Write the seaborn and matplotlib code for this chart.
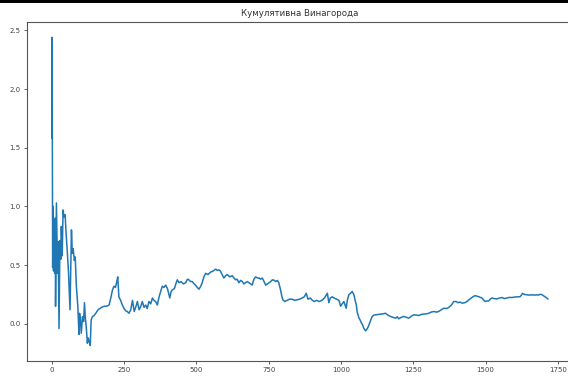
import matplotlib
matplotlib.use("Agg")
import matplotlib.pyplot as plt
from matplotlib.patches import Rectangle
import seaborn as sns
import pandas as pd

# Episode index and cumulative (running mean) reward
episodes = [
    0, 1, 2, 3, 5, 6, 8, 10, 12, 13, 16, 18, 20, 22, 25, 28, 31, 33, 36, 39,
    42, 46, 50, 54, 58, 63, 66, 68, 71, 74, 78, 81, 85, 90, 94, 96, 99, 102, 106, 110,
    113, 116, 119, 123, 126, 129, 133, 136, 140, 146, 152, 160, 166, 172, 181, 190, 198, 204, 210, 215,
    220, 224, 228, 232, 238, 244, 250, 256, 261, 267, 273, 279, 285, 290, 296, 302, 308, 313, 319, 325,
    330, 336, 342, 348, 353, 359, 365, 371, 376, 382, 388, 394, 400, 408, 412, 417, 424, 429, 434, 440,
    447, 455, 463, 469, 474, 480, 486, 492, 497, 503, 509, 515, 520, 526, 532, 540, 549, 558, 567, 572,
    578, 583, 589, 595, 601, 607, 615, 624, 630, 636, 641, 647, 653, 659, 664, 670, 676, 682, 688, 693,
    699, 705, 711, 717, 722, 728, 734, 740, 746, 751, 757, 763, 770, 775, 780, 785, 791, 796, 799, 806,
    814, 822, 831, 840, 849, 857, 866, 873, 880, 886, 894, 901, 908, 916, 925, 934, 943, 948, 953, 958,
    963, 970, 976, 985, 993, 999, 1004, 1010, 1018, 1022, 1027, 1033, 1039, 1045, 1049, 1053, 1056, 1059, 1062, 1066,
    1071, 1075, 1079, 1085, 1091, 1095, 1099, 1104, 1108, 1114, 1120, 1128, 1137, 1145, 1154, 1162, 1171, 1180, 1189, 1195,
    1200, 1208, 1217, 1226, 1235, 1243, 1252, 1260, 1269, 1278, 1286, 1295, 1304, 1312, 1321, 1330, 1338, 1347, 1356, 1365,
    1373, 1382, 1390, 1398, 1405, 1412, 1419, 1428, 1436, 1445, 1453, 1459, 1465, 1470, 1476, 1482, 1488, 1494, 1499, 1505,
    1511, 1516, 1522, 1530, 1539, 1548, 1557, 1565, 1574, 1582, 1591, 1600, 1608, 1614, 1620, 1624, 1628, 1635, 1643, 1651,
    1660, 1668, 1677, 1683, 1689, 1695, 1700, 1706, 1712, 1716,
]

cumulative_reward = [
    1.58, 2.44, 1.31, 0.48, 1.00, 0.45, 0.83, 0.43, 0.90, 0.15, 1.03, 0.75, 0.43, 0.70, -0.04, 0.71, 0.55, 0.83, 0.58, 0.97,
    0.91, 0.93, 0.75, 0.60, 0.43, 0.12, 0.55, 0.80, 0.60, 0.64, 0.54, 0.57, 0.32, 0.15, -0.09, 0.09, 0.03, -0.08, 0.06, 0.02,
    0.18, 0.05, -0.02, -0.165, -0.12, -0.15, -0.185, 0.03, 0.06, 0.07, 0.09, 0.12, 0.13, 0.14, 0.15, 0.15, 0.16, 0.22, 0.29, 0.32,
    0.31, 0.35, 0.40, 0.23, 0.20, 0.16, 0.13, 0.11, 0.105, 0.09, 0.12, 0.20, 0.105, 0.14, 0.19, 0.12, 0.15, 0.19, 0.14, 0.16,
    0.13, 0.19, 0.17, 0.22, 0.20, 0.19, 0.16, 0.23, 0.27, 0.32, 0.31, 0.33, 0.30, 0.22, 0.27, 0.29, 0.30, 0.34, 0.375, 0.35,
    0.36, 0.34, 0.35, 0.38, 0.375, 0.36, 0.36, 0.34, 0.33, 0.31, 0.295, 0.32, 0.35, 0.40, 0.43, 0.42, 0.44, 0.45, 0.466, 0.455,
    0.46, 0.45, 0.42, 0.39, 0.41, 0.42, 0.40, 0.41, 0.39, 0.375, 0.38, 0.35, 0.37, 0.36, 0.34, 0.35, 0.36, 0.35, 0.34, 0.33,
    0.38, 0.40, 0.39, 0.39, 0.38, 0.39, 0.36, 0.33, 0.34, 0.35, 0.36, 0.375, 0.37, 0.36, 0.37, 0.35, 0.29, 0.23, 0.205, 0.19,
    0.20, 0.21, 0.21, 0.20, 0.205, 0.21, 0.22, 0.23, 0.26, 0.21, 0.22, 0.20, 0.19, 0.20, 0.19, 0.20, 0.22, 0.24, 0.26, 0.18,
    0.22, 0.23, 0.22, 0.21, 0.20, 0.15, 0.17, 0.19, 0.133, 0.20, 0.247, 0.26, 0.275, 0.247, 0.20, 0.162, 0.10, 0.077, 0.05, 0.034,
    0.006, -0.01, -0.037, -0.06, -0.042, -0.02, 0.006, 0.04, 0.063, 0.075, 0.077, 0.08, 0.083, 0.085, 0.09, 0.075, 0.063, 0.055, 0.048, 0.06,
    0.043, 0.055, 0.063, 0.055, 0.048, 0.065, 0.077, 0.075, 0.071, 0.08, 0.083, 0.085, 0.09, 0.10, 0.105, 0.10, 0.105, 0.12, 0.133, 0.13,
    0.14, 0.16, 0.19, 0.19, 0.18, 0.185, 0.176, 0.18, 0.19, 0.21, 0.224, 0.235, 0.24, 0.235, 0.232, 0.225, 0.22, 0.20, 0.19, 0.195,
    0.195, 0.21, 0.22, 0.215, 0.212, 0.22, 0.224, 0.215, 0.22, 0.225, 0.224, 0.228, 0.23, 0.23, 0.232, 0.245, 0.26, 0.25, 0.247, 0.245,
    0.247, 0.245, 0.247, 0.245, 0.252, 0.248, 0.24, 0.23, 0.22, 0.21,
]

title = "Кумулятивна Винагорода"
x_ticks = [0, 250, 500, 750, 1000, 1250, 1500, 1750]
y_ticks = [0.0, 0.5, 1.0, 1.5, 2.0, 2.5]

df = pd.DataFrame({"episode": episodes, "reward": cumulative_reward})

sns.set_style("ticks")
plt.rcParams["font.family"] = ["DejaVu Sans"]

fig = plt.figure(figsize=(5.68, 3.76), dpi=100)
ax = fig.add_axes([0.0475, 0.040, 0.961, 0.9016])

sns.lineplot(data=df, x="episode", y="reward", ax=ax, color="#1f77b4",
             linewidth=1.1, estimator=None, sort=False)

ax.set_xticks(x_ticks)
ax.set_yticks(y_ticks)
ax.set_xlabel("")
ax.set_ylabel("")
ax.set_title(title, fontsize=6.2, color="#333333", pad=4)
ax.tick_params(labelsize=5.0, length=2.5, width=0.6, colors="#444444", pad=2)
for side in ["left", "bottom", "top"]:
    ax.spines[side].set_color("#555555")
    ax.spines[side].set_linewidth(0.8)
# the frame runs off the right edge of the figure
ax.spines["right"].set_visible(False)

# dark strip along the top edge of the figure
fig.add_artist(Rectangle((0, 1 - 3 / 376), 1, 3 / 376, transform=fig.transFigure,
                         facecolor="black", edgecolor="none"))

fig.savefig("out.png", dpi=100)
